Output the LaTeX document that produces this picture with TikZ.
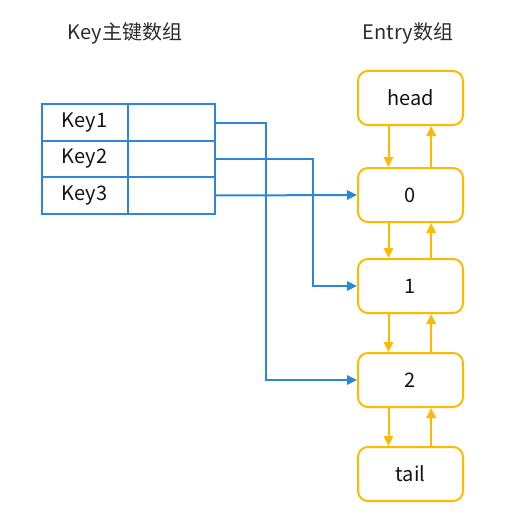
\documentclass[tikz,border=0pt]{standalone}
\usepackage{fontspec}
\setmainfont{Noto Sans CJK SC}
\usepackage{tikz}
\usetikzlibrary{arrows.meta}

\definecolor{keyblue}{RGB}{43,135,218}
\definecolor{entryorange}{RGB}{255,186,0}
\definecolor{textgray}{RGB}{20,20,20}

\tikzset{
	keycell/.style = {draw = keyblue, line width = 1.5pt, inner sep = 0pt, outer sep = 0pt,
		minimum width = 64.5pt, minimum height = 27.4pt, text = textgray, font = \fontsize{15}{17}\selectfont},
	valcell/.style = {keycell, minimum width = 65.25pt},
	entrybox/.style = {draw = entryorange, line width = 1.5pt, rounded corners = 7.5pt, inner sep = 0pt,
		minimum width = 78.75pt, minimum height = 40.5pt, text = textgray, font = \fontsize{15}{17}\selectfont},
	title/.style = {text = textgray!90, font = \fontsize{15}{17}\selectfont},
	pointer/.style = {draw = keyblue, line width = 1.5pt, -{Triangle[length = 7.5pt, width = 7pt]}},
	link/.style = {draw = entryorange, line width = 1.5pt, -{Triangle[length = 7.5pt, width = 7pt]}}
}

\begin{document}
\begin{tikzpicture}[x = 0.75pt, y = -0.75pt]
	\useasboundingbox (0,0) rectangle (530,524);

	\node [title] (keytitle) at (125,33) {Key主键数组};
	\node [title] (entrytitle) at (408,33) {Entry数组};

	\node [keycell] (k1) at (84.5,122.5) {Key1};
	\node [keycell] (k2) at (84.5,159) {Key2};
	\node [keycell] (k3) at (84.5,195.5) {Key3};
	\node [valcell] (v1) at (171.5,122.5) {};
	\node [valcell] (v2) at (171.5,159) {};
	\node [valcell] (v3) at (171.5,195.5) {};

	\node [entrybox] (head) at (410.5,98) {head};
	\node [entrybox] (n0) at (410.5,195) {0};
	\node [entrybox] (n1) at (410.5,286) {1};
	\node [entrybox] (n2) at (410.5,380) {2};
	\node [entrybox] (tail) at (410.5,474) {tail};

	\foreach \a/\b in {head/n0, n0/n1, n1/n2, n2/tail}
	{
		\draw [link] ([xshift = -16.5pt]\a.south) -- ([xshift = -16.5pt]\b.north);
		\draw [link] ([xshift = 15.5pt]\b.north) -- ([xshift = 15.5pt]\a.south);
	}

	\draw [pointer] (v1.east) -- ++(51,0) |- (n2.west);
	\draw [pointer] (v2.east) -- ++(98,0) |- (n1.west);
	\draw [pointer] (v3.east) -- (n0.west);
\end{tikzpicture}
\end{document}
